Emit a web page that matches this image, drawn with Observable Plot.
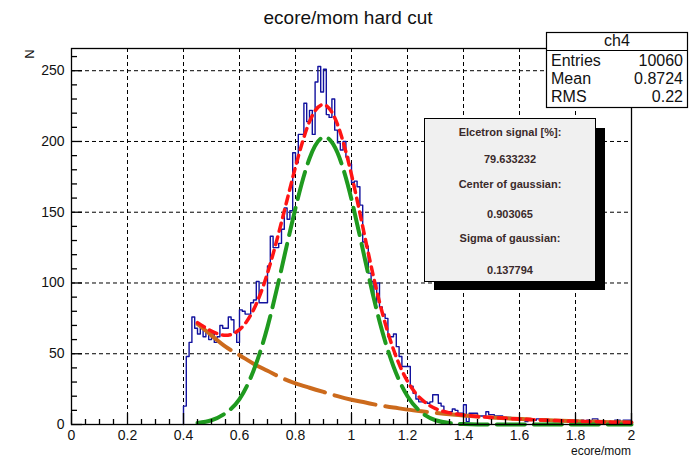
<!DOCTYPE html>
<html><head><meta charset="utf-8">
<script src="https://cdn.jsdelivr.net/npm/d3@7"></script>
<script src="https://cdn.jsdelivr.net/npm/@observablehq/plot@0.6"></script>
<style>body{margin:0;background:#fff} #chart{width:693px;height:458px}</style>
</head><body><div id="chart"></div>
<script>
// histogram: 0.01-wide bins starting at 0.40
const binStart = 0.40;
const binWidth = 0.01;
const counts = [
  13,48,58,76,68,64,70,62,66,60,
  64,58,62,70,68,68,76,74,65,58,
  81,80,78,78,86,88,101,86,86,86,
  112,133,125,125,128,138,153,145,151,192,
  185,205,205,227,214,222,205,242,253,235,
  251,219,217,230,208,199,194,200,189,184,
  171,172,168,155,129,126,107,101,86,100,
  83,78,75,62,62,64,55,48,41,41,
  41,27,22,18,16,16,16,15,16,21,
  21,15,13,9,9,9,11,10,8,8,
  14,2,8,8,8,6,6,6,9,7,
  7,6,6,6,5,5,5,4,4,4,
  4,3,2,3,4,3,4,4,3,4,
  3,3,2,3,3,2,3,3,2,3,
  3,2,3,2,3,2,4,4,1,2,
  2,1,2,2,3,3,2,3,3,3
];
const fitX = [0.45,0.50,0.55,0.60,0.65,0.70,0.75,0.80,0.85,0.90,0.95,1.00,1.05,1.10,1.15,1.20,1.25,1.30,1.35,1.40,1.45,1.50,1.55,1.60,1.65,1.70,1.75,1.80,1.85,1.90,1.95,2.00];
const gausFit = [1,3,8,18,38,69,110,153,188,203,192,159,115,73,41,20,8.5,3,1,0.3,0,0,0,0,0,0,0,0,0,0,0,0];
const expoFit = [71,63,55,49,43,38,33,29,26,23,20,17.5,15.5,13.5,12,10.5,9.3,8.2,7.2,6.4,5.6,5,4.4,3.9,3.4,3,2.6,2.3,2.1,1.8,1.6,1.4];
const totalFit = [72,66,63,67,81,107,143,182,214,226,212,176.5,130.5,86.5,53,30.5,17.8,11.2,8.2,6.7,5.6,5,4.4,3.9,3.4,3,2.6,2.3,2.1,1.8,1.6,1.4];
const xMajor = [0,0.2,0.4,0.6,0.8,1,1.2,1.4,1.6,1.8,2];
const xMinor = [0.05,0.1,0.15,0.25,0.3,0.35,0.45,0.5,0.55,0.65,0.7,0.75,0.85,0.9,0.95,1.05,1.1,1.15,1.25,1.3,1.35,1.45,1.5,1.55,1.65,1.7,1.75,1.85,1.9,1.95];
const yMajor = [0,50,100,150,200,250];
const yMinor = [10,20,30,40,60,70,80,90,110,120,130,140,160,170,180,190,210,220,230,240,260];
const title = "ecore/mom hard cut";
const xTitle = "ecore/mom";
const yTitle = "N";
const statsName = "ch4";
const statsRows = [["Entries","10060"],["Mean","0.8724"],["RMS","0.22"]];
const infoLines = ["Elcetron signal [%]:","79.633232","Center of gaussian:","0.903065","Sigma of gaussian:","0.137794"];

const histPts = [{x: binStart, y: 0}]
  .concat(counts.map((c, i) => ({x: binStart + i * binWidth, y: c})))
  .concat([{x: binStart + counts.length * binWidth, y: counts[counts.length - 1]}]);
const fit = fitX.map((x, i) => ({x, g: gausFit[i], e: expoFit[i], t: totalFit[i]}));

const W = 693, H = 458, mL = 71, mR = 62, mT = 48, mB = 34;
const frameW = W - mL - mR, frameH = H - mT - mB;
const font = "'Liberation Sans', Arial, sans-serif";
const chart = Plot.plot({
  width: W, height: H,
  marginLeft: mL, marginRight: mR, marginTop: mT, marginBottom: mB,
  x: {domain: [0, 2]},
  y: {domain: [0, 265.7]},
  style: {fontFamily: font, fontSize: "15px", color: "#111", background: "#fff"},
  marks: [
    Plot.gridX(xMajor.slice(1, -1), {stroke: "#000", strokeOpacity: 1, strokeDasharray: "4,3"}),
    Plot.gridY(yMajor.slice(1), {stroke: "#000", strokeOpacity: 1, strokeDasharray: "4,3"}),
    Plot.line(histPts, {x: "x", y: "y", curve: "step-after", stroke: "#12129e", strokeWidth: 1.4}),
    Plot.line(fit, {x: "x", y: "e", curve: "natural", stroke: "#cc6a1c", strokeWidth: 4, strokeDasharray: "42,10"}),
    Plot.line(fit, {x: "x", y: "g", curve: "natural", stroke: "#1f9a1f", strokeWidth: 4, strokeDasharray: "28,9"}),
    Plot.line(fit, {x: "x", y: "t", curve: "natural", stroke: "#ff1414", strokeWidth: 3.5, strokeDasharray: "8,6"}),
    Plot.frame({stroke: "#000", strokeWidth: 1.3}),
    Plot.tickX(xMajor, {x: d => d, insetTop: frameH - 11, stroke: "#000", strokeWidth: 1.3}),
    Plot.tickX(xMinor, {x: d => d, insetTop: frameH - 5, stroke: "#000", strokeWidth: 1.3}),
    Plot.tickY(yMajor, {y: d => d, insetRight: frameW - 11, stroke: "#000", strokeWidth: 1.3}),
    Plot.tickY(yMinor, {y: d => d, insetRight: frameW - 6, stroke: "#000", strokeWidth: 1.3}),
    Plot.axisX(xMajor, {tickSize: 0, tickPadding: 6, label: null, fontSize: 14, tickFormat: d => String(+d.toFixed(1))}),
    Plot.axisY(yMajor, {tickSize: 0, tickPadding: 7, label: null, fontSize: 14, tickFormat: d => String(d)})
  ]
});
document.getElementById("chart").appendChild(chart);

const svg = d3.select(chart);
svg.append("text").attr("x", 348).attr("y", 24).attr("text-anchor", "middle")
  .attr("font-family", font).attr("font-size", 19).attr("fill", "#111").text(title);
svg.append("text").attr("x", 631).attr("y", 455).attr("text-anchor", "end")
  .attr("font-family", font).attr("font-size", 12).attr("fill", "#111").text(xTitle);
svg.append("text").attr("transform", "translate(34,54) rotate(-90)").attr("text-anchor", "middle")
  .attr("font-family", font).attr("font-size", 13).attr("fill", "#111").text(yTitle);

// stats box
const sb = svg.append("g");
sb.append("rect").attr("x", 546.5).attr("y", 32.5).attr("width", 141).attr("height", 75)
  .attr("fill", "#fff").attr("stroke", "#000").attr("stroke-width", 1.2);
sb.append("line").attr("x1", 546.5).attr("x2", 687.5).attr("y1", 50.5).attr("y2", 50.5).attr("stroke", "#000").attr("stroke-width", 1.2);
sb.append("text").attr("x", 617).attr("y", 46).attr("text-anchor", "middle")
  .attr("font-family", font).attr("font-size", 16).attr("fill", "#111").text(statsName);
statsRows.forEach((r, i) => {
  const y = 66 + i * 18;
  sb.append("text").attr("x", 551).attr("y", y).attr("text-anchor", "start").attr("font-family", font).attr("font-size", 16).attr("fill", "#111").text(r[0]);
  sb.append("text").attr("x", 683).attr("y", y).attr("text-anchor", "end").attr("font-family", font).attr("font-size", 16).attr("fill", "#111").text(r[1]);
});

// info box
const ib = svg.append("g");
ib.append("rect").attr("x", 434).attr("y", 128).attr("width", 171).attr("height", 162).attr("fill", "#000");
ib.append("rect").attr("x", 424.5).attr("y", 118.5).attr("width", 171).attr("height", 163)
  .attr("fill", "#f0f0f0").attr("stroke", "#000").attr("stroke-width", 1);
const infoY = [135.5, 163, 188, 218, 242, 274];
infoLines.forEach((t, i) => {
  ib.append("text").attr("x", 510).attr("y", infoY[i]).attr("text-anchor", "middle")
    .attr("font-family", font).attr("font-size", 11).attr("font-weight", "bold").attr("fill", "#3a2a2a").text(t);
});
</script></body></html>
